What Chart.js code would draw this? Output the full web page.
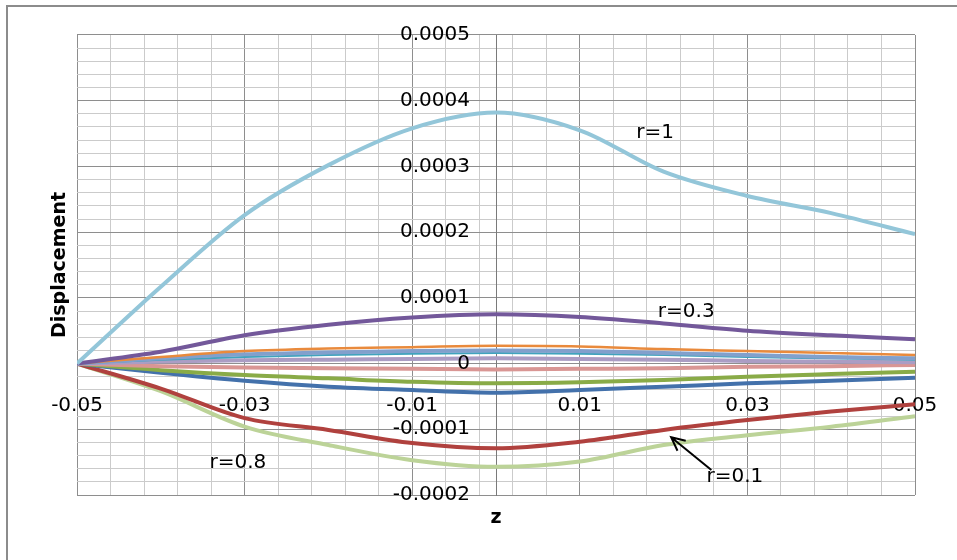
<!DOCTYPE html>
<html>
<head>
<meta charset="utf-8">
<script src="https://cdn.jsdelivr.net/npm/chart.js@4/dist/chart.umd.min.js"></script>
<style>
  html, body { margin: 0; padding: 0; background: #fff; }
  #wrap { position: relative; width: 957px; height: 560px; overflow: hidden; }
  #frame { position: absolute; left: 6px; top: 5px; width: 1000px; height: 600px;
           border-left: 2px solid #8c8c8c; border-top: 2px solid #8c8c8c; }
  canvas { position: absolute; left: 0; top: 0; }
</style>
</head>
<body>
<div id="wrap">
  <div id="frame"></div>
  <canvas id="chart" width="957" height="560"></canvas>
</div>
<script>
// Displacement vs z for several radii

const zValues = [-0.05, -0.04, -0.03, -0.02, -0.01, 0, 0.01, 0.02, 0.03, 0.04, 0.05];

const r1         = [0, 0.000117, 0.000226, 0.000302, 0.000358, 0.000382, 0.000355, 0.000292, 0.000255, 0.000229, 0.000197];
const r03        = [0, 0.000018, 0.000043, 0.000059, 0.00007, 0.000075, 0.000071, 0.000061, 0.00005, 0.000043, 0.000037];
const orangeVals = [0, 0.00001, 0.000019, 0.000023, 0.000025, 0.000027, 0.000026, 0.000022, 0.000019, 0.000016, 0.000013];
const tealVals   = [0, 0.000006, 0.00001, 0.000013, 0.000015, 0.000016, 0.000015, 0.000013, 0.00001, 0.000008, 0.000006];
const steelVals  = [0, 0.000008, 0.000014, 0.000017, 0.000019, 0.00002, 0.000019, 0.000016, 0.000013, 0.00001, 0.000008];
const lilacVals  = [0, 0.000003, 0.000005, 0.000006, 0.000007, 0.000008, 0.000007, 0.000006, 0.000004, 0.000003, 0.000002];
const pinkVals   = [0, -0.000004, -0.000006, -0.000007, -0.000008, -0.000009, -0.000008, -0.000007, -0.000005, -0.000004, -0.000002];
const greenVals  = [0, -0.00001, -0.0000175, -0.0000225, -0.0000277, -0.00003, -0.0000286, -0.0000251, -0.00002, -0.000016, -0.0000124];
const blueVals   = [0, -0.000014, -0.0000262, -0.0000353, -0.0000403, -0.0000444, -0.0000403, -0.0000353, -0.00003, -0.0000262, -0.0000216];
const r01        = [0, -0.000038, -0.000083, -0.000101, -0.000121, -0.000129, -0.000119, -0.000101, -0.000086, -0.000073, -0.000062];
const r08        = [0, -0.000042, -0.000096, -0.000124, -0.000147, -0.000157, -0.000149, -0.000124, -0.000109, -0.000096, -0.00008];

const xTickLabels = ['-0.05', '-0.03', '-0.01', '0.01', '0.03', '0.05'];
const yTickLabels = ['-0.0002', '-0.0001', '0', '0.0001', '0.0002', '0.0003', '0.0004', '0.0005'];

// text labels placed in data coordinates
const notes = [
    { text: 'r=1',   z: 0.019,   d: 0.000351 },
    { text: 'r=0.3', z: 0.0227,  d: 0.0000784 },
    { text: 'r=0.8', z: -0.0308, d: -0.000151 },
    { text: 'r=0.1', z: 0.0285,  d: -0.000173 }
];
const arrowFrom = { z: 0.0257, d: -0.000162 };
const arrowTo   = { z: 0.0209, d: -0.000112 };

const FONT = 'DejaVu Sans';
const X_MIN = -0.05, X_MAX = 0.05, X_MINOR = 0.004;
const Y_MIN = -0.0002, Y_MAX = 0.0005, Y_MINOR = 0.00002;

function toPoints(vals) {
    return zValues.map((z, i) => ({ x: z, y: vals[i] }));
}

function series(vals, color, width) {
    return {
        data: toPoints(vals),
        borderColor: color,
        borderWidth: width,
        pointRadius: 0,
        cubicInterpolationMode: 'monotone',
        fill: false
    };
}

function gridColor(ctx) {
    return ctx.index % 5 === 0 ? '#8e8e8e' : '#cbcbcb';
}

// no extra room for overflowing end labels
function noPad(s) {
    s.paddingLeft = 0;
    s.paddingRight = 0;
    s.paddingTop = 0;
    s.paddingBottom = 0;
}

// draw y tick labels, axis titles and the r= notes
const overlay = {
    id: 'overlay',
    afterDraw(chart) {
        const ctx = chart.ctx;
        const xs = chart.scales.x, ys = chart.scales.y;
        const x0 = xs.getPixelForValue(0);
        ctx.save();
        ctx.fillStyle = '#000';
        ctx.font = `20px "${FONT}"`;
        ctx.textAlign = 'right';
        ctx.textBaseline = 'middle';
        yTickLabels.forEach((lab, i) => {
            ctx.fillText(lab, x0 - 26, ys.getPixelForValue(Y_MIN + i * 0.0001));
        });

        ctx.textAlign = 'center';
        notes.forEach(n => {
            ctx.fillText(n.text, xs.getPixelForValue(n.z), ys.getPixelForValue(n.d));
        });

        // arrow to r=0.1
        const ax = xs.getPixelForValue(arrowFrom.z), ay = ys.getPixelForValue(arrowFrom.d);
        const bx = xs.getPixelForValue(arrowTo.z), by = ys.getPixelForValue(arrowTo.d);
        const ang = Math.atan2(by - ay, bx - ax);
        ctx.strokeStyle = '#000';
        ctx.lineWidth = 2;
        ctx.beginPath();
        ctx.moveTo(ax, ay);
        ctx.lineTo(bx, by);
        ctx.moveTo(bx - 15 * Math.cos(ang - 0.45), by - 15 * Math.sin(ang - 0.45));
        ctx.lineTo(bx, by);
        ctx.lineTo(bx - 15 * Math.cos(ang + 0.45), by - 15 * Math.sin(ang + 0.45));
        ctx.stroke();

        // axis titles
        ctx.font = `bold 19px "${FONT}"`;
        ctx.fillText('z', x0, 518);
        ctx.translate(60, (chart.chartArea.top + chart.chartArea.bottom) / 2);
        ctx.rotate(-Math.PI / 2);
        ctx.fillText('Displacement', 0, 0);
        ctx.restore();
    }
};

new Chart(document.getElementById('chart'), {
    type: 'line',
    data: {
        datasets: [
            series(r1, '#93c6d9', 4),
            series(r03, '#73589a', 4),
            series(orangeVals, '#e98a3c', 2.5),
            series(steelVals, '#82a0cc', 4),
            series(tealVals, '#3fa3bd', 2),
            series(lilacVals, '#ab9dc4', 4),
            series(pinkVals, '#d99694', 4),
            series(greenVals, '#89ab47', 4),
            series(blueVals, '#4371ab', 4),
            series(r01, '#b0413e', 4),
            series(r08, '#bcd398', 4)
        ]
    },
    options: {
        responsive: false,
        animation: false,
        layout: { autoPadding: false, padding: { left: 77, right: 42, top: 35, bottom: 65 } },
        plugins: { legend: { display: false }, tooltip: { enabled: false } },
        scales: {
            x: {
                type: 'linear',
                min: X_MIN,
                max: X_MAX,
                position: { y: 0 },
                afterFit: noPad,
                afterBuildTicks: s => {
                    const t = [];
                    for (let k = 0; k <= 25; k++) t.push({ value: X_MIN + k * X_MINOR });
                    s.ticks = t;
                },
                grid: { color: gridColor, lineWidth: 1, drawTicks: false },
                border: { display: false },
                ticks: {
                    autoSkip: false,
                    maxRotation: 0,
                    padding: 30,
                    color: '#000',
                    font: { family: FONT, size: 20 },
                    callback: (v, i) => (i % 5 === 0 ? xTickLabels[i / 5] : '')
                }
            },
            y: {
                type: 'linear',
                min: Y_MIN,
                max: Y_MAX,
                position: { x: 0 },
                afterFit: noPad,
                afterBuildTicks: s => {
                    const t = [];
                    for (let k = 0; k <= 35; k++) t.push({ value: Y_MIN + k * Y_MINOR });
                    s.ticks = t;
                },
                grid: { color: gridColor, lineWidth: 1, drawTicks: false },
                border: { display: true, color: '#7a7a7a', width: 1 },
                ticks: { display: false }
            }
        }
    },
    plugins: [overlay]
});
</script>
</body>
</html>
